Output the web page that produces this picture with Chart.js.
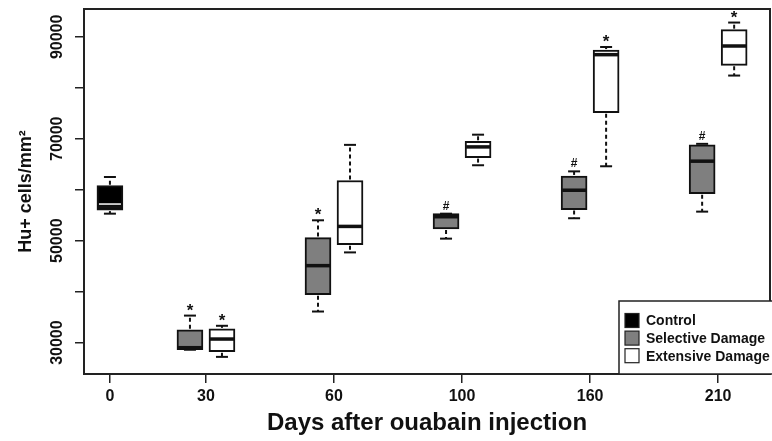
<!DOCTYPE html>
<html><head><meta charset="utf-8">
<script src="https://cdn.jsdelivr.net/npm/chart.js@4"></script>
<style>html,body{margin:0;padding:0;background:#fff}#wrap{width:772px;height:441px}</style>
</head><body><div id="wrap"><canvas id="c" width="772" height="441"></canvas></div>
<script>
// ---- data ----
const dayLabels = ['0', '30', '60', '100', '160', '210'];
const groupPositions = [1, 4, 8, 12, 16, 20];
const yTickValues = [30000, 40000, 50000, 60000, 70000, 80000, 90000];
const yTickLabels = ['30000', '', '50000', '', '70000', '', '90000'];

const controlDays = ['0'];
const controlMin = [55300];
const controlQ1 = [56000];
const controlMedian = [56600];
const controlQ3 = [60800];
const controlMax = [62500];

const damageDays = ['30', '60', '100', '160', '210'];
const selectiveMin = [28600, 36100, 50400, 54400, 55700];
const selectiveQ1 = [28600, 39400, 52300, 56100, 59200];
const selectiveMedian = [29000, 45100, 54700, 59900, 65600];
const selectiveQ3 = [32500, 50600, 55300, 62700, 68800];
const selectiveMax = [35300, 54000, 55300, 63600, 69000];
const selectiveMarks = ['*', '*', '#', '#', '#'];

const extensiveMin = [27200, 47700, 64800, 64600, 82400];
const extensiveQ1 = [28200, 49200, 66300, 75100, 84400];
const extensiveMedian = [30700, 52800, 68400, 86500, 88200];
const extensiveQ3 = [32700, 61800, 69500, 87400, 91400];
const extensiveMax = [33300, 68800, 70800, 88000, 92800];
const extensiveMarks = ['*', '', '', '*', '*'];

// ---- build ----
const FAMILY = "'Liberation Sans', Arial, Helvetica, sans-serif";
function posOf(day, shift) { return groupPositions[dayLabels.indexOf(day)] + shift; }
function makeSet(label, color, days, mn, q1, md, q3, mx, marks, shift, halo) {
  return {
    label: label,
    backgroundColor: color,
    borderColor: '#111',
    borderWidth: 2,
    borderSkipped: false,
    barThickness: 26,
    grouped: false,
    medianHalo: halo,
    data: days.map((d, i) => ({ x: posOf(d, shift), y: [q1[i], q3[i]] })),
    stats: days.map((d, i) => ({ min: mn[i], med: md[i], max: mx[i], mark: marks ? marks[i] : '' }))
  };
}

const datasets = [
  makeSet('Control', '#000000', controlDays, controlMin, controlQ1, controlMedian, controlQ3, controlMax, null, 0, true),
  makeSet('Selective Damage', '#7f7f7f', damageDays, selectiveMin, selectiveQ1, selectiveMedian, selectiveQ3, selectiveMax, selectiveMarks, -0.5, false),
  makeSet('Extensive Damage', '#ffffff', damageDays, extensiveMin, extensiveQ1, extensiveMedian, extensiveQ3, extensiveMax, extensiveMarks, 0.5, false)
];

const boxExtras = {
  id: 'boxExtras',
  afterDatasetsDraw(chart) {
    const ctx = chart.ctx, xs = chart.scales.x, ys = chart.scales.y, a = chart.chartArea;
    const line = (x1, y1, x2, y2) => { ctx.beginPath(); ctx.moveTo(x1, y1); ctx.lineTo(x2, y2); ctx.stroke(); };
    ctx.save();
    chart.data.datasets.forEach((ds, di) => {
      const meta = chart.getDatasetMeta(di);
      ds.data.forEach((pt, i) => {
        const st = ds.stats[i];
        const bar = meta.data[i];
        const cx = xs.getPixelForValue(pt.x);
        const half = bar.width / 2;
        const capHalf = 6;
        const yQ1 = ys.getPixelForValue(pt.y[0]);
        const yQ3 = ys.getPixelForValue(pt.y[1]);
        const yMin = ys.getPixelForValue(st.min);
        const yMax = ys.getPixelForValue(st.max);
        const yMed = ys.getPixelForValue(st.med);
        ctx.strokeStyle = '#111';
        ctx.lineWidth = 2;
        ctx.setLineDash([4, 3]);
        if (yMax < yQ3 - 1) line(cx, yQ3 - 1, cx, yMax);
        if (yMin > yQ1 + 1) line(cx, yQ1 + 1, cx, yMin);
        ctx.setLineDash([]);
        line(cx - capHalf, yMax, cx + capHalf, yMax);
        line(cx - capHalf, yMin, cx + capHalf, yMin);
        if (ds.medianHalo) {
          ctx.strokeStyle = '#ffffff';
          ctx.lineWidth = 1.5;
          line(cx - half + 2, yMed - 3, cx + half - 2, yMed - 3);
          ctx.strokeStyle = '#111';
        }
        ctx.lineWidth = 3.5;
        line(cx - half + 1, yMed, cx + half - 1, yMed);
        if (st.mark) {
          ctx.fillStyle = '#111';
          const size = st.mark === '*' ? 17 : 12;
          ctx.font = 'bold ' + size + 'px ' + FAMILY;
          ctx.textAlign = 'center';
          ctx.textBaseline = 'alphabetic';
          const m = ctx.measureText(st.mark);
          const mid = (m.actualBoundingBoxAscent - m.actualBoundingBoxDescent) / 2;
          ctx.fillText(st.mark, cx, yMax - 8.5 + mid);
        }
      });
    });
    // frame
    ctx.strokeStyle = '#222';
    ctx.lineWidth = 2;
    ctx.strokeRect(a.left, a.top, a.right - a.left, a.bottom - a.top);
    // legend
    const lgLeft = a.right - 151, lgTop = a.bottom - 73;
    ctx.fillStyle = '#fff';
    ctx.fillRect(lgLeft, lgTop, 200, a.bottom - lgTop);
    ctx.lineWidth = 1.5;
    ctx.strokeStyle = '#222';
    ctx.strokeRect(lgLeft, lgTop, 200, a.bottom - lgTop);
    ctx.font = 'bold 14px ' + FAMILY;
    ctx.textAlign = 'left';
    ctx.textBaseline = 'middle';
    chart.data.datasets.forEach((ds, di) => {
      const cy = lgTop + 19.5 + di * 17.6;
      ctx.fillStyle = ds.backgroundColor;
      ctx.fillRect(lgLeft + 6, cy - 7, 14, 14);
      ctx.lineWidth = 1.2;
      ctx.strokeStyle = '#222';
      ctx.strokeRect(lgLeft + 6, cy - 7, 14, 14);
      ctx.fillStyle = '#111';
      ctx.fillText(ds.label, lgLeft + 27, cy + 1);
    });
    ctx.restore();
  }
};

const tickFont = { family: FAMILY, size: 16, weight: 'bold' };
new Chart(document.getElementById('c'), {
  type: 'bar',
  data: { datasets: datasets },
  plugins: [boxExtras],
  options: {
    responsive: false,
    animation: false,
    events: [],
    layout: { padding: { top: 9, right: 2, left: 0, bottom: 0 } },
    plugins: { legend: { display: false }, tooltip: { enabled: false }, title: { display: false } },
    scales: {
      x: {
        type: 'linear', min: 0.19, max: 21.62, offset: false,
        afterBuildTicks(s) { s.ticks = groupPositions.map(v => ({ value: v })); },
        afterFit(s) { s.height = 67; },
        border: { display: false },
        grid: { offset: false, drawOnChartArea: false, drawTicks: true, tickLength: 9, color: '#222', lineWidth: 1.5 },
        ticks: {
          autoSkip: false, maxRotation: 0, padding: 4, color: '#111', font: tickFont,
          callback: (v) => { const k = groupPositions.indexOf(v); return k >= 0 ? dayLabels[k] : ''; }
        },
        title: { display: true, text: 'Days after ouabain injection', color: '#111',
          font: { family: FAMILY, size: 24, weight: 'bold' }, padding: { top: 0, bottom: 3 } }
      },
      y: {
        type: 'linear', min: 23840, max: 95460,
        afterBuildTicks(s) { s.ticks = yTickValues.map(v => ({ value: v })); },
        afterFit(s) { s.width = 84; },
        border: { display: false },
        grid: { drawOnChartArea: false, drawTicks: true, tickLength: 9, color: '#222', lineWidth: 1.5 },
        ticks: {
          autoSkip: false, minRotation: 90, maxRotation: 90, crossAlign: 'center', padding: -5,
          color: '#111', font: tickFont,
          callback: (v) => { const k = yTickValues.indexOf(v); return k >= 0 ? yTickLabels[k] : ''; }
        },
        title: { display: true, text: 'Hu+ cells/mm²', color: '#111',
          font: { family: FAMILY, size: 18, weight: 'bold' }, padding: { top: 15, bottom: 0 } }
      }
    }
  }
});
</script>
</body></html>
